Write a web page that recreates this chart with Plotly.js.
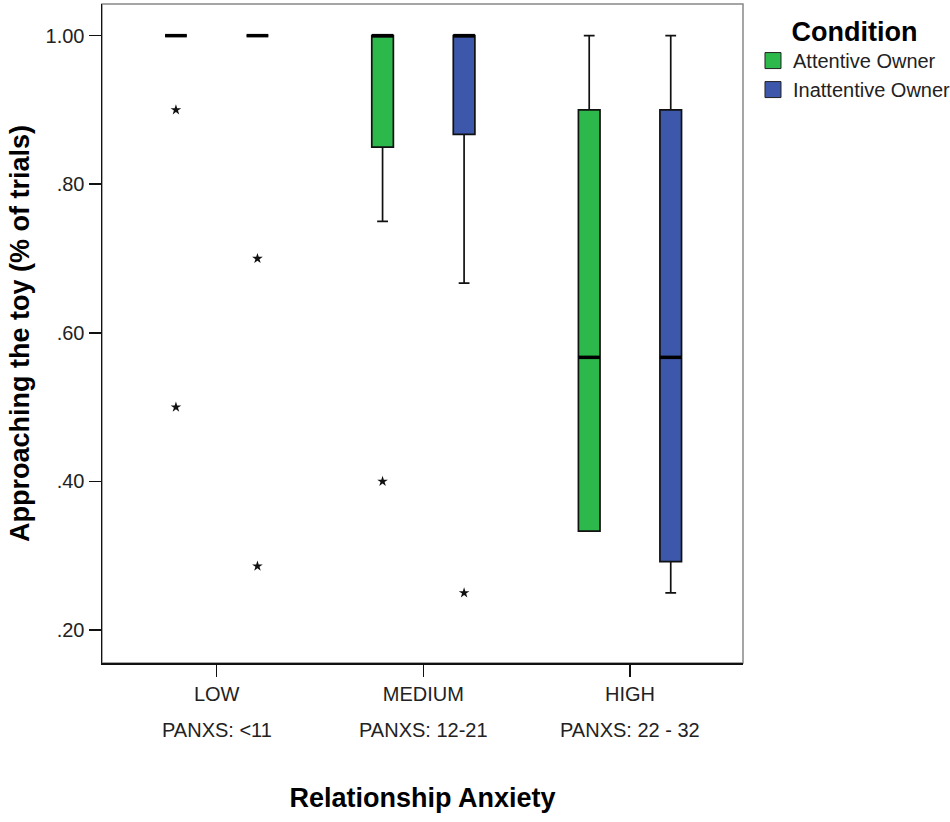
<!DOCTYPE html>
<html>
<head>
<meta charset="utf-8">
<script src="https://cdn.plot.ly/plotly-3.0.1.min.js"></script>
<style>
  html, body { margin: 0; padding: 0; background: #fff; }
  #chart { width: 950px; height: 822px; }
</style>
</head>
<body>
<div id="chart"></div>
<script>
// anxiety groups and their PANXS ranges
var groups = ['LOW', 'MEDIUM', 'HIGH'];
var panxsRanges = ['PANXS: <11', 'PANXS: 12-21', 'PANXS: 22 - 32'];

// box stats per condition (proportion of trials)
var attentiveQ1 = [1.00, 0.85, 0.333];
var attentiveMedian = [1.00, 1.00, 0.567];
var attentiveQ3 = [1.00, 1.00, 0.90];
var attentiveLow = [1.00, 0.75, 0.333];
var attentiveHigh = [1.00, 1.00, 1.00];
var attentiveOutliers = [[0.90, 0.50], [0.40], []];

var inattentiveQ1 = [1.00, 0.867, 0.292];
var inattentiveMedian = [1.00, 1.00, 0.567];
var inattentiveQ3 = [1.00, 1.00, 0.90];
var inattentiveLow = [1.00, 0.667, 0.25];
var inattentiveHigh = [1.00, 1.00, 1.00];
var inattentiveOutliers = [[0.70, 0.286], [0.25], []];

var font = 'Liberation Sans, Arial, sans-serif';
var green = '#2db84b';
var blue = '#3d58aa';

// layout of the grouped boxes
var boxGap = 0.211;
var boxGroupGap = 0.735;
var offset = 0.25 * (1 - boxGap);
var xRange = [-0.555, 2.547];

function boxTrace(name, color, q1, med, q3, lo, hi, outl) {
    return {
        type: 'box',
        name: name,
        x: groups,
        y: outl,
        q1: q1,
        median: med,
        q3: q3,
        lowerfence: lo,
        upperfence: hi,
        boxpoints: 'outliers',
        pointpos: 0,
        jitter: 0,
        fillcolor: color,
        line: {color: '#111', width: 1.7},
        whiskerwidth: 0.5,
        marker: {symbol: 'star', size: 8, color: '#111', line: {width: 0}},
        showlegend: false,
        hoverinfo: 'skip'
    };
}

// thick SPSS style median bars, drawn on an overlaid numeric axis
// (line-ew draws 1.4 x size wide)
function medianTrace(med, shift) {
    return {
        type: 'scatter',
        mode: 'markers',
        xaxis: 'x2',
        x: med.map(function(v, i) { return i + shift; }),
        y: med,
        marker: {symbol: 'line-ew', size: 15.5, line: {color: '#000', width: 3.5}},
        showlegend: false,
        hoverinfo: 'skip'
    };
}

function legendTrace(name, color) {
    return {
        type: 'scatter',
        mode: 'markers',
        x: [null],
        y: [null],
        name: name,
        marker: {symbol: 'square', size: 16, color: color, line: {color: '#222', width: 1}}
    };
}

var data = [
    boxTrace('Attentive Owner', green, attentiveQ1, attentiveMedian, attentiveQ3, attentiveLow, attentiveHigh, attentiveOutliers),
    boxTrace('Inattentive Owner', blue, inattentiveQ1, inattentiveMedian, inattentiveQ3, inattentiveLow, inattentiveHigh, inattentiveOutliers),
    medianTrace(attentiveMedian, -offset),
    medianTrace(inattentiveMedian, offset),
    legendTrace('Attentive Owner', green),
    legendTrace('Inattentive Owner', blue)
];

var annotations = panxsRanges.map(function(t, i) {
    return {
        x: groups[i],
        xref: 'x',
        y: -0.102,
        yref: 'paper',
        yanchor: 'middle',
        text: t.replace('<', '&lt;'),
        showarrow: false,
        font: {family: font, size: 20, color: '#222'}
    };
});

var layout = {
    width: 950,
    height: 822,
    margin: {l: 102, r: 207, t: 3.5, b: 159, autoexpand: false},
    paper_bgcolor: '#fff',
    plot_bgcolor: '#fff',
    font: {family: font, color: '#222'},
    boxmode: 'group',
    boxgap: boxGap,
    boxgroupgap: boxGroupGap,
    xaxis: {
        type: 'category',
        range: xRange,
        showline: true,
        linecolor: '#111',
        linewidth: 1.5,
        ticks: 'outside',
        ticklen: 12,
        tickcolor: '#111',
        tickwidth: 1.5,
        showgrid: false,
        zeroline: false,
        tickfont: {family: font, size: 20, color: '#222'},
        title: {
            text: 'Relationship Anxiety',
            font: {family: font, size: 27, color: '#000', weight: 'bold'},
            standoff: 84
        }
    },
    xaxis2: {
        overlaying: 'x',
        range: xRange,
        visible: false
    },
    yaxis: {
        range: [0.1556, 1.0426],
        tickvals: [0.2, 0.4, 0.6, 0.8, 1.0],
        ticktext: ['.20', '.40', '.60', '.80', '1.00'],
        showline: true,
        linecolor: '#111',
        linewidth: 1.5,
        ticks: 'outside',
        ticklen: 12,
        tickcolor: '#111',
        tickwidth: 1.5,
        showgrid: false,
        zeroline: false,
        tickfont: {family: font, size: 20, color: '#222'},
        title: {
            text: 'Approaching the toy (% of trials)',
            font: {family: font, size: 27, color: '#000', weight: 'bold'},
            standoff: 8
        }
    },
    shapes: [{
        type: 'rect',
        xref: 'paper', yref: 'paper',
        x0: 0, x1: 1, y0: 0, y1: 1,
        line: {color: '#888', width: 1.5},
        layer: 'below'
    }],
    annotations: annotations,
    legend: {
        x: 1.0156,
        xanchor: 'left',
        y: 0.997,
        yanchor: 'top',
        bgcolor: 'rgba(0,0,0,0)',
        font: {family: font, size: 20, color: '#222'},
        tracegroupgap: 0,
        title: {
            text: 'Condition',
            side: 'top center',
            font: {family: font, size: 27, color: '#000', weight: 'bold'}
        }
    }
};

Plotly.newPlot('chart', data, layout, {displayModeBar: false, staticPlot: true});
</script>
</body>
</html>
